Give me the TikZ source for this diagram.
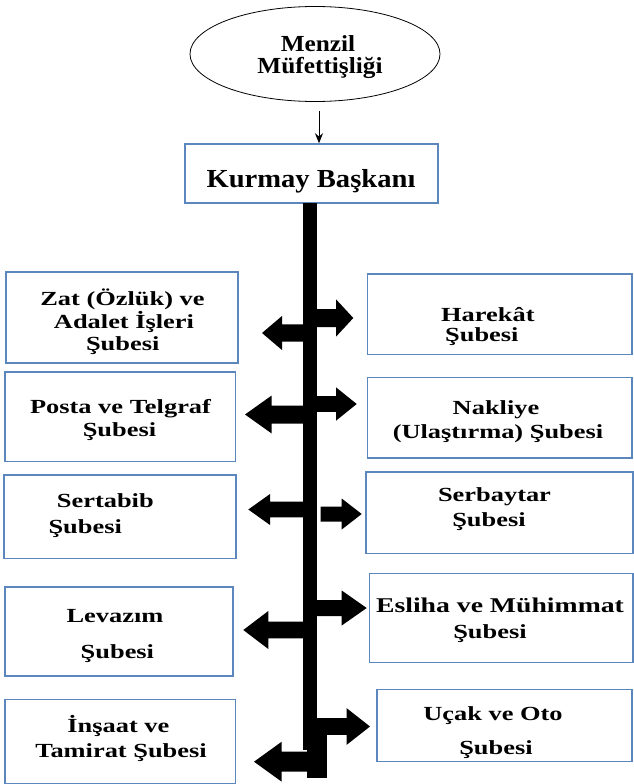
\documentclass[tikz,border=0pt]{standalone}
\usepackage{fontspec}
\setmainfont[FakeStretch=1.32]{Liberation Serif}
\newfontfamily\topfont[FakeStretch=1.1]{Liberation Serif}
\usetikzlibrary{shapes.geometric,arrows.meta}
\definecolor{boxblue}{RGB}{91,135,190}
\tikzset{
  box/.style={draw=boxblue, line width=1.5pt, rectangle, inner sep=0pt},
  txt/.style={inner sep=0pt, anchor=base, font=\fontsize{20}{24}\selectfont\bfseries},
  txtw/.style={txt, anchor=base west},
}
\newcommand{\lefthand}[6]{%
  \fill ({#1},{#3-#4}) -- ({#2+#6},{#3-#4}) -- ({#2+#6},{#3-#5}) -- ({#2},{#3})
    -- ({#2+#6},{#3+#5}) -- ({#2+#6},{#3+#4}) -- ({#1},{#3+#4}) -- cycle;}
\newcommand{\righthand}[6]{%
  \fill ({#1},{#3-#4}) -- ({#2-#6},{#3-#4}) -- ({#2-#6},{#3-#5}) -- ({#2},{#3})
    -- ({#2-#6},{#3+#5}) -- ({#2-#6},{#3+#4}) -- ({#1},{#3+#4}) -- cycle;}
\begin{document}
\begin{tikzpicture}[x=1pt,y=-1pt]
\useasboundingbox (0,0) rectangle (634,784);
\fill[white] (0,0) rectangle (634,784);

% top
\node[draw, ellipse, line width=0.8pt, minimum width=250pt, minimum height=95pt, inner sep=0pt] (mf) at (315,54) {};
\node[txt, font=\fontsize{23}{24}\selectfont\bfseries\topfont] (mf1) at (318,52) {Menzil};
\node[txt, font=\fontsize{23}{24}\selectfont\bfseries\topfont] (mf2) at (320,74) {Müfettişliği};

\node[box, minimum width=253pt, minimum height=59pt] (kb) at (311.5,173.5) {};
\node[txt, font=\fontsize{26}{28}\selectfont\bfseries\topfont] (kbt) at (311,187) {Kurmay Başkanı};

\coordinate (a0) at (319,111);
\draw[line width=0.9pt, -{Stealth[length=10pt,width=8pt]}] (a0) -- (a0 |- kb.north);

% spine
\node[fill=black, inner sep=0pt, minimum width=14.6pt, minimum height=547pt, anchor=north] (spine) at (310,203) {};
\fill (307.3,735) rectangle (326.7,778);

% left boxes
\node[box, minimum width=232pt, minimum height=91pt] (l1) at (122,317.5) {};
\node[box, minimum width=230.5pt, minimum height=89.7pt] (l2) at (120.2,416.8) {};
\node[box, minimum width=232pt, minimum height=83.3pt] (l3) at (120,516.7) {};
\node[box, minimum width=228pt, minimum height=89pt] (l4) at (119,631.5) {};
\node[box, minimum width=230.5pt, minimum height=84pt] (l5) at (120.2,741.3) {};

% right boxes
\node[box, minimum width=264.5pt, minimum height=80.3pt] (r1) at (499.75,314.2) {};
\node[box, minimum width=264.5pt, minimum height=80.5pt] (r2) at (499.75,417.75) {};
\node[box, minimum width=267pt, minimum height=81.3pt] (r3) at (499.5,512.7) {};
\node[box, minimum width=263.5pt, minimum height=89.2pt] (r4) at (501.25,618.1) {};
\node[box, minimum width=255pt, minimum height=72.4pt] (r5) at (504.5,725.5) {};

% texts left
\node[txt] (l1a) at (122.5,305) {Zat (Özlük) ve};
\node[txt] (l1b) at (124,328) {Adalet İşleri};
\node[txt] (l1c) at (122.7,350) {Şubesi};
\node[txt] (l2a) at (120.5,413) {Posta ve Telgraf};
\node[txt] (l2b) at (119.5,436) {Şubesi};
\node[txtw] (l3a) at (56.7,507.5) {Sertabib};
\node[txtw] (l3b) at (48.3,533) {Şubesi};
\node[txt] (l4a) at (115,622.5) {Levazım};
\node[txt] (l4b) at (117.4,658) {Şubesi};
\node[txt] (l5a) at (118.4,732) {İnşaat ve};
\node[txt] (l5b) at (121,757) {Tamirat Şubesi};

% texts right
\node[txtw] (r1a) at (441,321) {Harekât};
\node[txtw] (r1b) at (445,341) {Şubesi};
\node[txt] (r2a) at (496,414.5) {Nakliye};
\node[txt] (r2b) at (498,438.5) {(Ulaştırma) Şubesi};
\node[txt] (r3a) at (494.5,501) {Serbaytar};
\node[txt] (r3b) at (489,526) {Şubesi};
\node[txt, font=\fontsize{21}{24}\selectfont\bfseries] (r4a) at (500,612) {Esliha ve Mühimmat};
\node[txt] (r4b) at (490,638) {Şubesi};
\node[txt] (r5a) at (493,720) {Uçak ve Oto};
\node[txt] (r5b) at (496,754) {Şubesi};

% block arrows to the left
\lefthand{303}{262}{333}{8.7}{17}{20}
\lefthand{303}{245}{414.5}{9}{19}{26.7}
\lefthand{303}{248.3}{509.5}{7.8}{15.5}{21.7}
\lefthand{303}{243.3}{630}{8.3}{19}{25}
\lefthand{308}{254}{761.7}{10}{20}{27.7}

% block arrows to the right
\righthand{317}{353.3}{318}{9}{18.7}{17.3}
\righthand{317}{356.7}{404}{7.8}{16.7}{20.7}
\righthand{320.7}{361.7}{514}{7.5}{15.5}{20}
\righthand{317}{366.7}{608}{8}{17.5}{25}
\righthand{317}{370}{726.5}{8.3}{18.3}{23.3}
\end{tikzpicture}
\end{document}
